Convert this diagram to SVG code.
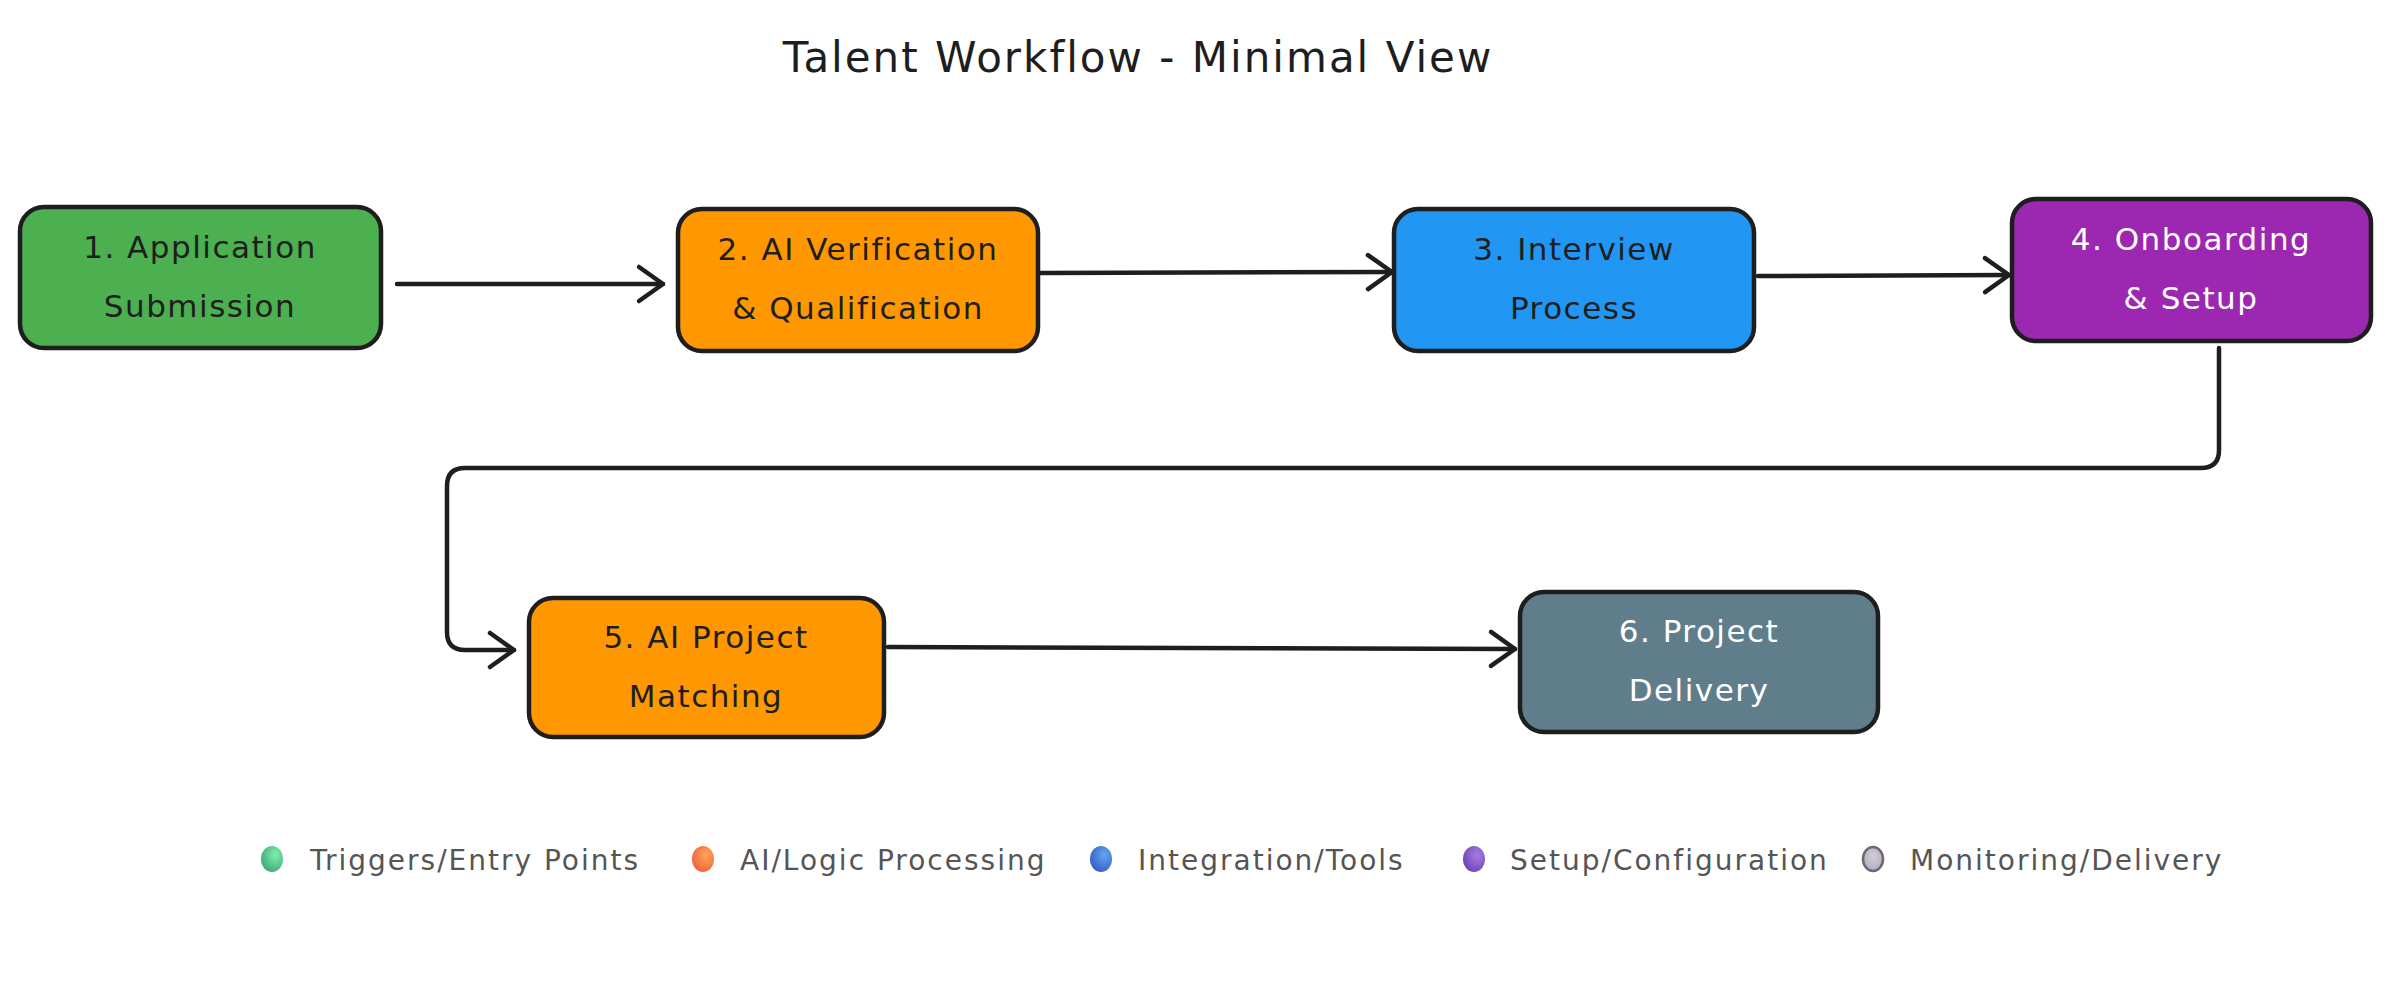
<svg xmlns="http://www.w3.org/2000/svg" width="2392" height="1000" viewBox="0 0 2392 1000">
  <style>
    .node rect { stroke: #1e1e1e; stroke-width: 4.5; }
    .lbl { font-family: "DejaVu Sans", "Liberation Sans", sans-serif; font-size: 31px; letter-spacing: 1.5px; text-anchor: middle; fill: #1e1e1e; }
    .lbl.light { fill: #ffffff; }
    .title { font-family: "DejaVu Sans", "Liberation Sans", sans-serif; font-size: 42px; letter-spacing: 2px; text-anchor: middle; fill: #1e1e1e; }
    .leg { font-family: "DejaVu Sans", "Liberation Sans", sans-serif; font-size: 28px; letter-spacing: 2px; fill: #555555; }
    .conn path { fill: none; stroke: #1e1e1e; stroke-width: 4.5; stroke-linecap: round; stroke-linejoin: round; marker-end: url(#arrow); }
  </style>
  <defs>
    <marker id="arrow" viewBox="-30 -22 36 44" refX="0" refY="0" markerWidth="36" markerHeight="44" markerUnits="userSpaceOnUse" orient="auto">
      <path d="M-24,-17 L0,0 L-24,17" fill="none" stroke="#1e1e1e" stroke-width="4.5" stroke-linecap="round" stroke-linejoin="round"/>
    </marker>
    <radialGradient id="gGreen" cx="0.65" cy="0.35" r="0.8"><stop offset="0" stop-color="#7ef0a8"/><stop offset="1" stop-color="#3a9e7a"/></radialGradient>
    <radialGradient id="gOrange" cx="0.65" cy="0.35" r="0.8"><stop offset="0" stop-color="#ffa45a"/><stop offset="1" stop-color="#ee5a36"/></radialGradient>
    <radialGradient id="gBlue" cx="0.65" cy="0.35" r="0.8"><stop offset="0" stop-color="#63a6ee"/><stop offset="1" stop-color="#3254c2"/></radialGradient>
    <radialGradient id="gPurple" cx="0.65" cy="0.35" r="0.8"><stop offset="0" stop-color="#a47ee0"/><stop offset="1" stop-color="#6a3db3"/></radialGradient>
    <radialGradient id="gGray" cx="0.5" cy="0.4" r="0.7"><stop offset="0" stop-color="#d2cdd8"/><stop offset="1" stop-color="#b0a6c0"/></radialGradient>
  </defs>

  <text class="title" x="1138" y="72">Talent Workflow - Minimal View</text>

  <g id="connectors" class="conn">
    <path id="c1" d="M397,284 L663,284"/>
    <path id="c2" d="M1040,273 L1392,272"/>
    <path id="c3" d="M1758,276 L2009,275"/>
    <path id="c4" d="M2219,348 L2219,450 Q2219,468 2201,468 L465,468 Q447,468 447,486 L447,632 Q447,650 465,650 L514,650"/>
    <path id="c5" d="M888,647 L1515,649"/>
  </g>

  <g id="n1" class="node">
    <rect x="20" y="207" width="361" height="141" rx="24" fill="#4caf50"/>
    <text class="lbl" x="200" y="258">1. Application</text>
    <text class="lbl" x="200" y="317">Submission</text>
  </g>
  <g id="n2" class="node">
    <rect x="678" y="209" width="360" height="142" rx="24" fill="#ff9800"/>
    <text class="lbl" x="858" y="260">2. AI Verification</text>
    <text class="lbl" x="858" y="319">&amp; Qualification</text>
  </g>
  <g id="n3" class="node">
    <rect x="1394" y="209" width="360" height="142" rx="24" fill="#2196f3"/>
    <text class="lbl" x="1574" y="260">3. Interview</text>
    <text class="lbl" x="1574" y="319">Process</text>
  </g>
  <g id="n4" class="node">
    <rect x="2012" y="199" width="359" height="142" rx="24" fill="#9c27b0"/>
    <text class="lbl light" x="2191" y="250">4. Onboarding</text>
    <text class="lbl light" x="2191" y="309">&amp; Setup</text>
  </g>
  <g id="n5" class="node">
    <rect x="529" y="598" width="355" height="139" rx="24" fill="#ff9800"/>
    <text class="lbl" x="706" y="648">5. AI Project</text>
    <text class="lbl" x="706" y="707">Matching</text>
  </g>
  <g id="n6" class="node">
    <rect x="1520" y="592" width="358" height="140" rx="24" fill="#607d8b"/>
    <text class="lbl light" x="1699" y="642">6. Project</text>
    <text class="lbl light" x="1699" y="701">Delivery</text>
  </g>

  <g id="legend">
    <ellipse cx="272" cy="859" rx="11" ry="13" fill="url(#gGreen)"/>
    <text class="leg" x="310" y="870">Triggers/Entry Points</text>
    <ellipse cx="703" cy="859" rx="11" ry="13" fill="url(#gOrange)"/>
    <text class="leg" x="740" y="870">AI/Logic Processing</text>
    <ellipse cx="1101" cy="859" rx="11" ry="13" fill="url(#gBlue)"/>
    <text class="leg" x="1138" y="870">Integration/Tools</text>
    <ellipse cx="1474" cy="859" rx="11" ry="13" fill="url(#gPurple)"/>
    <text class="leg" x="1510" y="870">Setup/Configuration</text>
    <ellipse cx="1873" cy="859" rx="10" ry="12" fill="url(#gGray)" stroke="#6b6b6b" stroke-width="2.5"/>
    <text class="leg" x="1910" y="870">Monitoring/Delivery</text>
  </g>
</svg>
